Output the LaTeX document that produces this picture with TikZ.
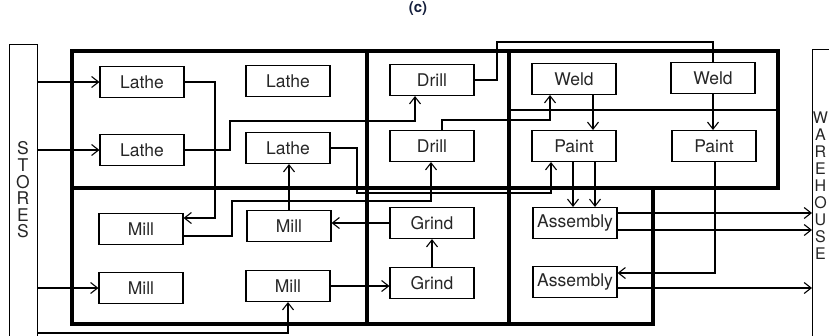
\documentclass[tikz,border=0pt]{standalone}
\usepackage{fontspec}
\setmainfont{TeX Gyre Heros}
\usetikzlibrary{arrows.meta}
\begin{document}
\begin{tikzpicture}[x=1pt,y=-1pt,
  box/.style={draw, line width=1.1pt, minimum width=84pt, minimum height=31pt, inner sep=0pt,
    font=\fontsize{17.5}{20}\selectfont, text=black!85},
  flow/.style={line width=1.6pt, line join=miter, -{Straight Barb[length=7pt,width=11pt,line width=1.1pt]}},
  link/.style={line width=1.6pt, line join=miter},
  dept/.style={line width=3.2pt, line cap=rect},
  divider/.style={line width=2.3pt},
  endbox/.style={draw, line width=1pt, inner sep=0pt, anchor=north west},
  vlabel/.style={align=center, inner sep=0pt, text=black!85}]
\useasboundingbox (0,0) rectangle (829,335);

% caption
\node[font=\fontsize{15}{17}\selectfont\bfseries, text={rgb,255:red,20;green,30;blue,60}] (caption) at (418,9) {(c)};

% stores and warehouse
\node[endbox, minimum width=28pt, minimum height=330pt] (stores) at (9,44) {};
\node[vlabel, font=\fontsize{17.5}{16.6}\selectfont] (storestext) at (23,190) {S\\T\\O\\R\\E\\S};
\node[endbox, minimum width=40pt, minimum height=330pt] (warehouse) at (812,49) {};
\node[vlabel, font=\fontsize{16}{17}\selectfont] (whtext) at (820.5,186) {W\\A\\R\\E\\H\\O\\U\\S\\E};

% department frames
\draw[dept] (72,51) -- (778,51) -- (778,188);
\draw[dept] (72,51) -- (72,324) -- (653,324) -- (653,188);
\draw[dept] (72,188) -- (778,188);
\draw[dept] (367,51) -- (367,324);
\draw[dept] (509,51) -- (509,324);
\draw[divider] (509,110) -- (778,110);

% machines
\node[box] (lathe1) at (142,82) {Lathe};
\node[box] (lathe2) at (288,81) {Lathe};
\node[box] (lathe3) at (142,150) {Lathe};
\node[box] (lathe4) at (288,148) {Lathe};
\node[box] (drill1) at (432,80) {Drill};
\node[box] (drill2) at (432,146) {Drill};
\node[box] (weld1) at (574,79) {Weld};
\node[box] (weld2) at (713,78) {Weld};
\node[box] (paint1) at (574,146) {Paint};
\node[box] (paint2) at (714,146) {Paint};
\node[box] (mill1) at (141,229) {Mill};
\node[box] (mill2) at (289,226) {Mill};
\node[box] (mill3) at (141,288) {Mill};
\node[box] (mill4) at (288,286) {Mill};
\node[box] (grind1) at (432,223) {Grind};
\node[box] (grind2) at (432,283) {Grind};
\node[box] (asm1) at (575,223) {Assembly};
\node[box] (asm2) at (575,282) {Assembly};

% flows from stores
\draw[flow] (stores.east |- lathe1.west) -- (lathe1.west);
\draw[flow] (stores.east |- lathe3.west) -- (lathe3.west);
\draw[flow] (stores.east |- mill3.west) -- (mill3.west);
\draw[flow] (stores.east |- 0,333) -- (mill4.south |- 0,333) -- (mill4.south);

% flows between machines
\draw[flow] (lathe1.east) -- (215,0 |- lathe1.east) -- (215,218) -- (mill1.east |- 0,218);
\draw[flow] (lathe3.east) -- (230,0 |- lathe3.east) -- (230,121) -- (415,121) -- (415,0 |- drill1.south);
\draw[flow] (mill1.east |- 0,236) -- (232,236) -- (232,201) -- (431,201) -- (431,0 |- drill2.south);
\draw[flow] (lathe4.east) -- (357,0 |- lathe4.east) -- (357,193) -- (551,193) -- (551,0 |- paint1.south);
\draw[link] (drill1.east) -- (497,0 |- drill1.east) -- (497,42) -- (713,42) -- (weld2.north);
\draw[flow] (442,0 |- drill2.north) -- (442,120) -- (550,120) -- (550,0 |- weld1.south);
\draw[flow] (mill2.north) -- (mill2.north |- lathe4.south);
\draw[flow] (grind1.west) -- (mill2.east |- grind1.west);
\draw[flow] (mill4.east) -- (grind2.west |- mill4.east);
\draw[flow] (grind2.north) -- (grind1.south);
\draw[flow] (593,0 |- weld1.south) -- (593,0 |- paint1.north);
\draw[flow] (weld2.south) -- (weld2.south |- paint2.north);
\draw[flow] (573,0 |- paint1.south) -- (573,0 |- asm1.north);
\draw[flow] (595,0 |- paint1.south) -- (595,0 |- asm1.north);
\draw[flow] (715,0 |- paint2.south) -- (715,273) -- (asm2.east |- 0,273);

% flows to warehouse
\draw[flow] (asm1.east |- 0,213) -- (warehouse.west |- 0,213);
\draw[flow] (asm1.east |- 0,230) -- (warehouse.west |- 0,230);
\draw[flow] (asm2.east |- 0,288) -- (warehouse.west |- 0,288);
\end{tikzpicture}
\end{document}
